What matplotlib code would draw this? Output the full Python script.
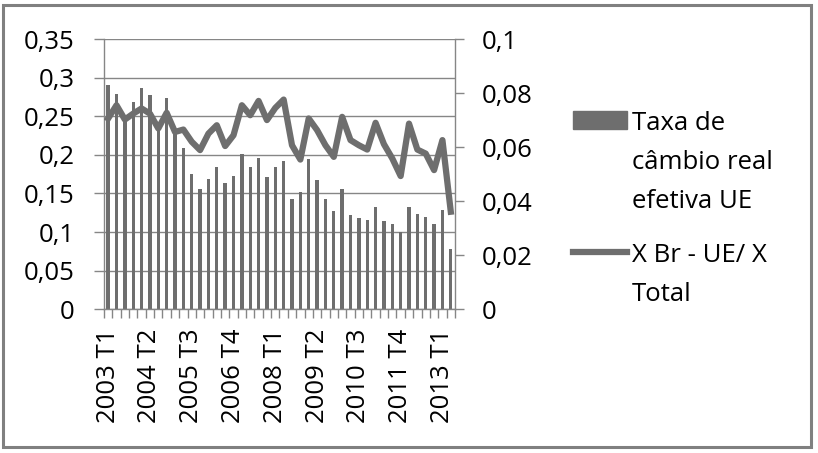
import numpy as np
import matplotlib.pyplot as plt
from matplotlib.patches import Rectangle
from matplotlib.lines import Line2D

plt.rcParams['font.family'] = ['Open Sans', 'DejaVu Sans']

# quarters 2003 T1 .. 2013 T2
years = list(range(2003, 2014))
quarters = [f'{y} T{q}' for y in years for q in range(1, 5)][:42]

taxa_cambio = [0.290, 0.279, 0.248, 0.268, 0.287, 0.278, 0.235, 0.273, 0.228, 0.209,
               0.175, 0.156, 0.169, 0.184, 0.163, 0.173, 0.201, 0.184, 0.196, 0.171,
               0.184, 0.192, 0.143, 0.152, 0.194, 0.167, 0.143, 0.127, 0.156, 0.122,
               0.118, 0.116, 0.133, 0.114, 0.110, 0.100, 0.132, 0.124, 0.120, 0.110,
               0.129, 0.078]

x_br_ue = [0.0706, 0.0755, 0.0702, 0.0724, 0.0743, 0.0724, 0.0669, 0.0727, 0.0656, 0.0665,
           0.0620, 0.0589, 0.0650, 0.0681, 0.0604, 0.0644, 0.0755, 0.0718, 0.0771, 0.0700,
           0.0745, 0.0776, 0.0607, 0.0554, 0.0706, 0.0663, 0.0607, 0.0564, 0.0712, 0.0626,
           0.0607, 0.0591, 0.0690, 0.0611, 0.0558, 0.0493, 0.0687, 0.0591, 0.0576, 0.0515,
           0.0626, 0.0361]

left_ticks = [0, 0.05, 0.1, 0.15, 0.2, 0.25, 0.3, 0.35]
right_ticks = [0, 0.02, 0.04, 0.06, 0.08, 0.1]

label_bar = 'Taxa de\ncâmbio real\nefetiva UE'
label_line = 'X Br - UE/ X\nTotal'

def fmt(v):
    s = f'{v:g}'
    return s.replace('.', ',')

gray = '#6e6e6e'
axcol = '#868686'
fs = 18.5

fig = plt.figure(figsize=(8.18, 4.53), dpi=100)
ax = fig.add_axes([0.1271, 0.3172, 0.4291, 0.5967])
x = np.arange(len(quarters))
ax.bar(x, taxa_cambio, width=0.4, color=gray, zorder=2)
ax.set_xlim(-0.5, len(quarters) - 0.5)
ax.set_ylim(0, 0.35)
ax.set_yticks(left_ticks)
ax.set_yticklabels([fmt(v) for v in left_ticks], fontsize=fs)
ax.yaxis.grid(True, color=axcol, linewidth=1.0, zorder=0)
ax.set_axisbelow(True)
ax.set_xticks(x[::5])
ax.set_xticklabels(quarters[::5], rotation=90, fontsize=fs)
ax.set_xticks(np.arange(-0.5, len(quarters)), minor=True)
ax.tick_params(axis='x', which='major', length=0, pad=14)
ax.tick_params(axis='x', which='minor', length=6.5, width=1, color=axcol, direction='out')
ax.tick_params(axis='y', length=7, width=1, color=axcol, pad=14)
for s in ['top', 'right']:
    ax.spines[s].set_visible(False)
for s in ['left', 'bottom']:
    ax.spines[s].set_color(axcol)
    ax.spines[s].set_linewidth(1.0)

ax2 = ax.twinx()
ax2.plot(x, x_br_ue, color=gray, linewidth=4.5, solid_joinstyle='round')
ax2.set_ylim(0, 0.1)
ax2.set_yticks(right_ticks)
ax2.set_yticklabels([fmt(v) for v in right_ticks], fontsize=fs)
ax2.tick_params(axis='y', length=6.5, width=1, color=axcol, pad=13)
for s in ['top', 'left', 'bottom']:
    ax2.spines[s].set_visible(False)
ax2.spines['right'].set_color(axcol)
ax2.spines['right'].set_linewidth(1.0)

handles = [Rectangle((0, 0), 1, 1, color=gray),
           Line2D([0], [0], color=gray, linewidth=4.5)]
leg = fig.legend(handles, [label_bar, label_line], loc='upper left',
                 bbox_to_anchor=(0.688, 0.778), frameon=False, fontsize=fs,
                 handlelength=2.1, handletextpad=0.2, labelspacing=1.1,
                 borderaxespad=0)
for t in leg.get_texts():
    t.set_linespacing(1.75)
# put each handle next to the first line of its label
for col in leg._legend_handle_box.get_children():
    for row in col.get_children():
        row.align = 'top'

fig.add_artist(Rectangle((0.0037, 0.0143), 0.988, 0.9757, transform=fig.transFigure,
                         fill=False, edgecolor='#808080', linewidth=2.2))

fig.savefig('out.png', dpi=100)
